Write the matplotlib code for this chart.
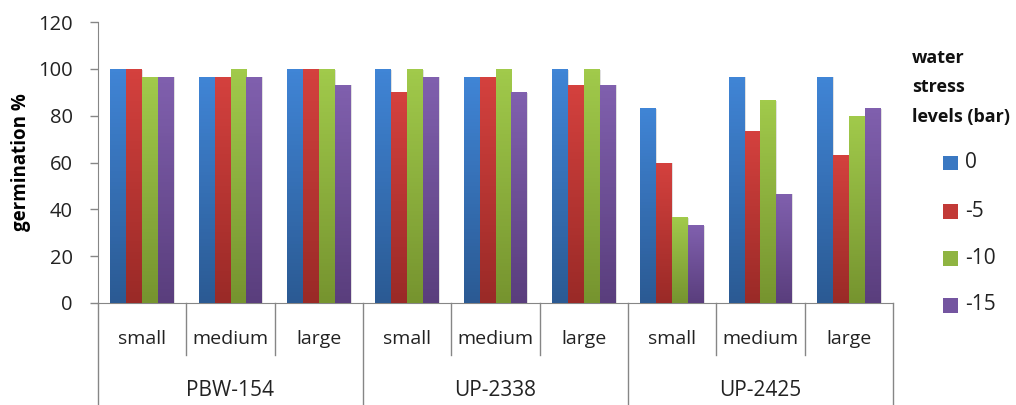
import numpy as np
import matplotlib
matplotlib.use("Agg")
import matplotlib.pyplot as plt
from matplotlib.colors import LinearSegmentedColormap
from matplotlib.patches import Rectangle
import matplotlib.transforms as mtransforms

plt.rcParams['font.family'] = ['Open Sans', 'DejaVu Sans']

varieties = ["PBW-154", "UP-2338", "UP-2425"]
sizes = ["small", "medium", "large"]
levels = ["0", "-5", "-10", "-15"]

# germination % per level, ordered variety-major then size
g_0 = [100, 96.7, 100, 100, 96.7, 100, 83.3, 96.7, 96.7]
g_5 = [100, 96.7, 100, 90.0, 96.7, 93.3, 60.0, 73.3, 63.3]
g_10 = [96.7, 100, 100, 100, 100, 100, 36.7, 86.7, 80.0]
g_15 = [96.7, 96.7, 93.3, 96.7, 90.0, 93.3, 33.3, 46.7, 83.3]
series = [g_0, g_5, g_10, g_15]

# (top, bottom) colours of each bar gradient
grad = [("#4085d6", "#2b5a93"),
        ("#d4413e", "#9a2a27"),
        ("#a1ca4b", "#76942f"),
        ("#8060ae", "#5a3e7d")]
legend_colors = ["#3a78c2", "#c23a37", "#8fb441", "#7455a0"]

W, H = 1016, 405
fig = plt.figure(figsize=(W / 100, H / 100), dpi=100)
x0, x1 = 98, 893
y_top, y_zero = 22, 303
ax = fig.add_axes([x0 / W, 1 - y_zero / H, (x1 - x0) / W, (y_zero - y_top) / H])

n = len(varieties) * len(sizes)
x = np.arange(n)
bw = 0.18
gray = "#868686"
txt = "#222222"

for i, (vals, (ctop, cbot)) in enumerate(zip(series, grad)):
    offs = (i - 1.5) * bw
    bars = ax.bar(x + offs, vals, bw, color="none", edgecolor="none", zorder=3)
    cmap = LinearSegmentedColormap.from_list("g%d" % i, [cbot, ctop])
    for b in bars:
        bx, by = b.get_x(), b.get_y()
        bwid, bh = b.get_width(), b.get_height()
        # soft shadow
        sh = Rectangle((bx + 0.012, by), bwid, bh - 0.3, facecolor="#000000",
                       alpha=0.12, edgecolor="none", zorder=2)
        ax.add_patch(sh)
        img = ax.imshow(np.linspace(0, 1, 64).reshape(-1, 1), cmap=cmap,
                        origin="lower", aspect="auto",
                        extent=[bx, bx + bwid, by, by + bh], zorder=3)
        img.set_clip_path(b)

ax.set_xlim(-0.5, n - 0.5)
ax.set_ylim(0, 120)
ax.set_yticks(np.arange(0, 121, 20))
ax.tick_params(axis="y", length=6, width=1, color=gray, labelsize=14.5,
               labelcolor=txt, pad=12)
ax.set_xticks([])
for s in ["top", "right"]:
    ax.spines[s].set_visible(False)
ax.spines["left"].set_color(gray)
ax.spines["bottom"].set_color(gray)
ax.set_ylabel("germination %", fontsize=13.5, fontweight="bold", labelpad=5)

# multi-level category axis
trans = mtransforms.blended_transform_factory(ax.transData, ax.transAxes)
ah = y_zero - y_top
y_inner = -(355 - y_zero) / ah
y_outer = -(H - y_zero) / ah
y_size_lbl = -(339 - y_zero) / ah
y_var_lbl = -(390 - y_zero) / ah

for k in range(n + 1):
    xb = k - 0.5
    bottom = y_outer if k % 3 == 0 else y_inner
    ax.plot([xb, xb], [0, bottom], color=gray, lw=1, transform=trans,
            clip_on=False)
for k in range(n):
    ax.text(k, y_size_lbl, sizes[k % 3], transform=trans, ha="center",
            va="center", fontsize=14, color=txt)
for v, name in enumerate(varieties):
    ax.text(3 * v + 1, y_var_lbl, name, transform=trans, ha="center",
            va="center", fontsize=15, color=txt)

# legend
for line, yy in zip(["water", "stress", "levels (bar)"], [58, 87, 117]):
    fig.text(912 / W, 1 - yy / H, line, fontsize=13, fontweight="bold",
             va="center", ha="left", color="#111111")
leg_y = [163, 211, 258, 305]
for lab, c, yy in zip(levels, legend_colors, leg_y):
    fig.patches.append(Rectangle((943 / W, 1 - (yy + 7.5) / H), 15 / W, 15 / H,
                                 facecolor=c, edgecolor="none",
                                 transform=fig.transFigure))
    fig.text(965 / W, 1 - yy / H, lab, fontsize=15, va="center", ha="left",
             color=txt)

fig.savefig("out.png", dpi=100)
